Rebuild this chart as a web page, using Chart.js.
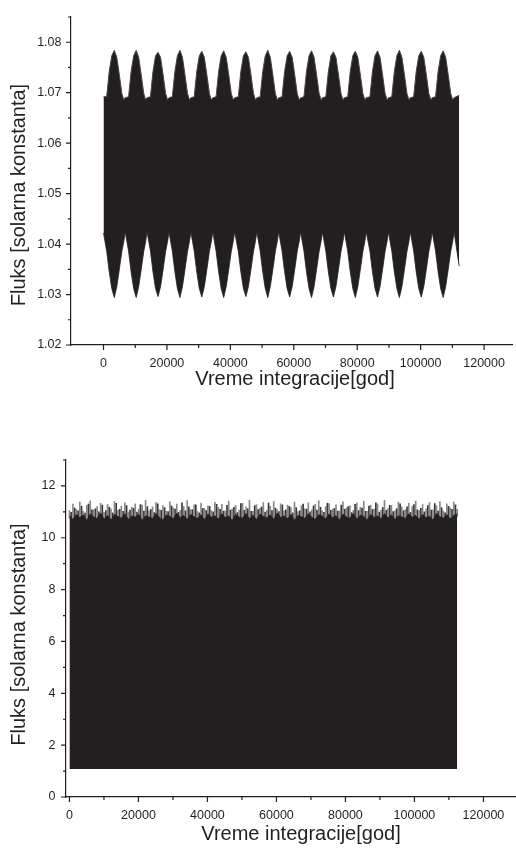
<!DOCTYPE html>
<html lang="sr">
<head>
  <meta charset="UTF-8" />
  <title>Fluks - vreme integracije</title>
  <script src="https://cdn.jsdelivr.net/npm/chart.js"></script>
  <style>
    body {
      margin: 0;
      background: #fff;
      overflow: hidden;
    }
    canvas {
      position: absolute;
      left: 0;
    }
    #top { top: 0; }
    #bottom { top: 420px; }
  </style>
</head>
<body>
  <canvas id="top" width="516" height="420"></canvas>
  <canvas id="bottom" width="516" height="431"></canvas>

  <script>
    // ---- top panel: envelope of the dense signal ----
    const topPeakYears   = [3400, 10300, 17200, 24100, 31000, 37900, 44900, 51800, 58700, 65600, 72500, 79400, 86400, 93300, 100200, 107100];
    const topPeakFlux    = [1.0784, 1.0784, 1.0780, 1.0784, 1.0782, 1.0783, 1.0781, 1.0784, 1.0782, 1.0783, 1.0781, 1.0782, 1.0783, 1.0784, 1.0782, 1.0783];
    const topTroughFlux  = [1.0294, 1.0294, 1.0296, 1.0294, 1.0295, 1.0294, 1.0296, 1.0294, 1.0295, 1.0294, 1.0295, 1.0294, 1.0295, 1.0294, 1.0295, 1.0294];
    // shape around each peak / trough (years from the peak)
    const topProfileYears = [-2400, -1600, -800, 0, 800, 1600, 2400, 3000, 3450];
    const topUpperProfile = [1.0692, 1.0742, 1.0773, null, 1.0770, 1.0735, 1.0698, 1.0686, 1.0690];
    const topLowerProfile = [1.0386, 1.0345, 1.0312, null, 1.0316, 1.0350, 1.0386, 1.0405, 1.0424];
    const topStartYear = 0, topStartUpper = 1.0692, topStartLower = 1.0422;
    const topEndYear = 112150, topEndUpper = 1.0695, topEndLower = 1.0356;

    const topXTicks = [0, 20000, 40000, 60000, 80000, 100000, 120000];
    const topXMinor = [10000, 30000, 50000, 70000, 90000, 110000];
    const topYTicks = [1.02, 1.03, 1.04, 1.05, 1.06, 1.07, 1.08];
    const topYMinor = [1.025, 1.035, 1.045, 1.055, 1.065, 1.075, 1.085];

    // ---- bottom panel: top edge of the filled signal, every ~1000 years ----
    const bottomEndYear = 112400;
    const bottomFloor = 1.08;
    const bottomBody = [
      10.85,10.70,10.90,10.78,10.88,10.66,10.92,10.80,10.74,10.95,10.72,10.86,10.68,10.90,10.82,10.75,10.93,10.70,10.84,10.79,
      10.91,10.67,10.85,10.80,10.73,10.94,10.78,10.69,10.88,10.83,10.72,10.95,10.76,10.86,10.70,10.90,10.81,10.74,10.89,10.68,
      10.92,10.79,10.85,10.71,10.93,10.77,10.84,10.66,10.90,10.80,10.75,10.94,10.72,10.87,10.69,10.91,10.82,10.76,10.88,10.70,
      10.95,10.78,10.84,10.73,10.90,10.67,10.86,10.81,10.74,10.93,10.79,10.70,10.89,10.83,10.72,10.92,10.77,10.85,10.68,10.91,
      10.80,10.75,10.94,10.71,10.87,10.82,10.69,10.90,10.78,10.84,10.73,10.93,10.76,10.88,10.70,10.85,10.80,10.74,10.92,10.79,
      10.86,10.71,10.90,10.77,10.83,10.68,10.94,10.81,10.75,10.89,10.72,10.86,10.92
    ];
    // light (grey) spikes at the sample years
    const bottomSpikes = [
      11.05,11.30,11.10,11.38,11.02,11.25,11.42,11.08,11.20,11.33,10.98,11.28,11.12,11.40,11.06,11.22,11.35,11.00,11.18,11.31,
      11.10,11.26,11.44,11.04,11.19,11.36,11.08,11.24,11.02,11.39,11.15,11.30,11.06,11.21,11.43,11.09,11.27,11.01,11.34,11.13,
      11.23,11.05,11.37,11.17,11.29,11.03,11.41,11.11,11.25,11.07,11.33,11.19,11.45,11.02,11.28,11.14,11.36,11.06,11.22,11.40,
      11.09,11.31,11.04,11.26,11.16,11.38,11.01,11.24,11.12,11.35,11.08,11.29,11.43,11.05,11.20,11.32,11.10,11.27,11.03,11.39,
      11.15,11.23,11.06,11.34,11.18,11.41,11.02,11.26,11.11,11.30,11.07,11.44,11.13,11.25,11.04,11.37,11.19,11.09,11.33,11.21,
      11.42,11.05,11.28,11.12,11.36,11.08,11.24,11.40,11.03,11.31,11.15,11.38,11.10
    ];
    // dark spikes half way between the sample years
    const bottomDarkSpikes = [
      10.98,11.15,11.04,11.22,10.95,11.30,11.08,11.12,11.00,11.26,11.05,11.18,10.96,11.33,11.10,11.02,11.24,11.07,11.14,10.99,
      11.28,11.03,11.20,11.09,10.97,11.31,11.06,11.16,11.01,11.23,11.11,10.98,11.35,11.04,11.19,11.08,11.27,10.96,11.13,11.05,
      11.21,11.00,11.29,11.10,11.03,11.25,11.07,11.17,10.97,11.32,11.06,11.12,11.02,11.24,11.09,11.19,10.99,11.34,11.05,11.14,
      11.01,11.27,11.08,11.21,10.96,11.16,11.04,11.30,11.11,11.00,11.23,11.07,11.18,10.98,11.33,11.06,11.13,11.03,11.26,11.10,
      11.20,10.97,11.29,11.05,11.15,11.02,11.22,11.09,11.35,10.99,11.17,11.06,11.25,11.01,11.12,11.31,11.04,11.19,10.98,11.28,
      11.08,11.14,11.00,11.24,11.07,11.32,11.03,11.16,10.96,11.21,11.10,11.27
    ];

    const bottomXTicks = [0, 20000, 40000, 60000, 80000, 100000, 120000];
    const bottomXMinor = [10000, 30000, 50000, 70000, 90000, 110000];
    const bottomYTicks = [0, 2, 4, 6, 8, 10, 12];
    const bottomYMinor = [1, 3, 5, 7, 9, 11, 13];

    const xTitle = 'Vreme integracije[god]';
    const yTitle = 'Fluks [solarna konstanta]';

    const ink = '#231f20';
    const fontFamily = '"Liberation Sans", Arial, sans-serif';

    // build envelope points
    const topUpper = [{ x: topStartYear, y: topStartUpper }];
    const topLower = [{ x: topStartYear, y: topStartLower }];
    topPeakYears.forEach((t, i) => {
      topProfileYears.forEach((dt, j) => {
        topUpper.push({ x: t + dt, y: dt === 0 ? topPeakFlux[i] : topUpperProfile[j] });
        topLower.push({ x: t + dt, y: dt === 0 ? topTroughFlux[i] : topLowerProfile[j] });
      });
    });
    topUpper.push({ x: topEndYear, y: topEndUpper });
    topLower.push({ x: topEndYear, y: topEndLower });

    const bottomStep = bottomEndYear / (bottomBody.length - 1);
    const bodyPoints = bottomBody.map((v, i) => ({ x: i * bottomStep, y: v }));
    const spikeBars = bottomSpikes.map((v, i) => ({ x: i * bottomStep, y: [bottomBody[i] - 0.1, v] }));
    const darkBars = bottomDarkSpikes.map((v, i) => ({
      x: (i + 0.5) * bottomStep,
      y: [Math.min(bottomBody[i], bottomBody[i + 1]) - 0.1, v]
    }));

    // minor/major tick marks and axis titles
    function makeDecor(cfg) {
      return {
        id: 'decor',
        afterDraw(chart) {
          const ctx = chart.ctx;
          const a = chart.chartArea;
          const xs = chart.scales.x, ys = chart.scales.y;
          ctx.save();
          ctx.strokeStyle = ink;
          ctx.lineWidth = 1.2;
          ctx.beginPath();
          cfg.xMajor.forEach(v => { const p = xs.getPixelForValue(v); ctx.moveTo(p, a.bottom); ctx.lineTo(p, a.bottom + 5); });
          cfg.xMinor.forEach(v => { const p = xs.getPixelForValue(v); ctx.moveTo(p, a.bottom); ctx.lineTo(p, a.bottom + 3); });
          cfg.yMajor.forEach(v => { const p = ys.getPixelForValue(v); ctx.moveTo(a.left, p); ctx.lineTo(a.left - 5, p); });
          cfg.yMinor.forEach(v => { const p = ys.getPixelForValue(v); ctx.moveTo(a.left, p); ctx.lineTo(a.left - 3, p); });
          ctx.stroke();

          ctx.fillStyle = ink;
          ctx.font = '20px ' + fontFamily;
          ctx.textAlign = 'center';
          ctx.textBaseline = 'alphabetic';
          ctx.fillText(xTitle, cfg.xTitleX, cfg.xTitleY);
          ctx.translate(cfg.yTitleX, cfg.yTitleY);
          ctx.rotate(-Math.PI / 2);
          ctx.fillText(yTitle, 0, 0);
          ctx.restore();
        }
      };
    }

    function axes(o) {
      return {
        x: {
          type: 'linear', min: o.xMin, max: o.xMax, offset: false,
          grid: { display: false, drawTicks: false },
          border: { color: ink, width: 1.2 },
          ticks: {
            color: ink, font: { family: fontFamily, size: 12.5 }, padding: o.xPad,
            maxRotation: 0, autoSkip: false, callback: v => String(v)
          },
          afterBuildTicks: s => { s.ticks = o.xTicks.map(v => ({ value: v })); },
          afterFit: s => { s.height = o.xHeight; }
        },
        y: {
          type: 'linear', min: o.yMin, max: o.yMax,
          grid: { display: false, drawTicks: false },
          border: { color: ink, width: 1.2 },
          ticks: {
            color: ink, font: { family: fontFamily, size: 12.5 }, padding: o.yPad,
            autoSkip: false, callback: o.yFormat
          },
          afterBuildTicks: s => { s.ticks = o.yTicks.map(v => ({ value: v })); },
          afterFit: s => { s.width = o.yWidth; }
        }
      };
    }

    const common = {
      responsive: false,
      animation: false,
      devicePixelRatio: 1,
      plugins: { legend: { display: false }, tooltip: { enabled: false } },
      elements: { point: { radius: 0 }, line: { tension: 0 } }
    };

    new Chart(document.getElementById('top'), {
      type: 'line',
      data: {
        datasets: [
          { data: topUpper, fill: '+1', backgroundColor: ink, borderColor: '#4a4647', borderWidth: 1 },
          { data: topLower, fill: false, borderColor: ink, borderWidth: 0.8 }
        ]
      },
      options: Object.assign({}, common, {
        layout: { padding: { top: 12, right: 1, left: 0, bottom: 0 } },
        scales: axes({
          xMin: -10250, xMax: 128900, xTicks: topXTicks, xPad: 11, xHeight: 75,
          yMin: 1.02, yMax: 1.085, yTicks: topYTicks, yPad: 9.5, yWidth: 71,
          yFormat: v => Number(v).toFixed(2)
        })
      }),
      plugins: [makeDecor({
        xMajor: topXTicks, xMinor: topXMinor, yMajor: topYTicks, yMinor: topYMinor,
        xTitleX: 295, xTitleY: 385, yTitleX: 25, yTitleY: 195
      })]
    });

    new Chart(document.getElementById('bottom'), {
      type: 'line',
      data: {
        datasets: [
          { data: bodyPoints, fill: { value: bottomFloor }, backgroundColor: ink, borderColor: ink, borderWidth: 1 },
          { type: 'bar', data: darkBars, backgroundColor: '#3a3637', barThickness: 1, grouped: false },
          { type: 'bar', data: spikeBars, backgroundColor: '#8a8788', barThickness: 1, grouped: false }
        ]
      },
      options: Object.assign({}, common, {
        layout: { padding: { top: 40, right: 1, left: 0, bottom: 0 } },
        scales: axes({
          xMin: -1000, xMax: 129150, xTicks: bottomXTicks, xPad: 11, xHeight: 54,
          yMin: 0, yMax: 13, yTicks: bottomYTicks, yPad: 10.5, yWidth: 66,
          yFormat: v => String(v)
        })
      }),
      plugins: [makeDecor({
        xMajor: bottomXTicks, xMinor: bottomXMinor, yMajor: bottomYTicks, yMinor: bottomYMinor,
        xTitleX: 301, xTitleY: 420, yTitleX: 25, yTitleY: 214.5
      })]
    });
  </script>
</body>
</html>
